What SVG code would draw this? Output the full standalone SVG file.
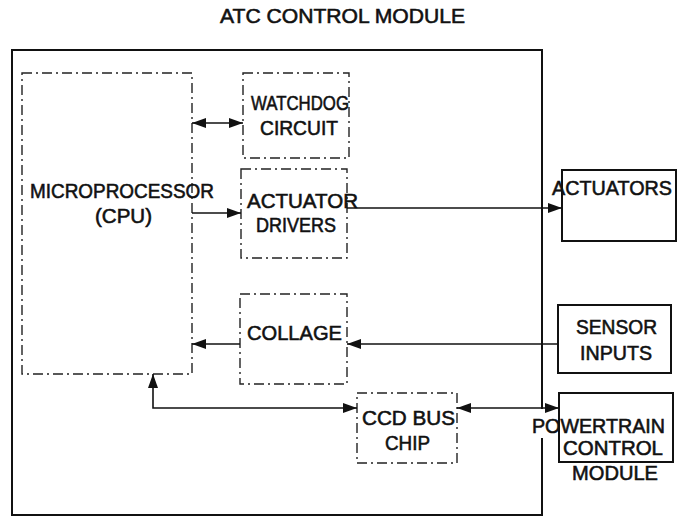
<svg xmlns="http://www.w3.org/2000/svg" width="683" height="518" viewBox="0 0 683 518">
<defs>
<style>
.t{font-family:"Liberation Sans","DejaVu Sans",sans-serif;font-size:19.5px;fill:#111;stroke:#111;stroke-width:0.55;text-anchor:start}
.dd{fill:none;stroke:#222;stroke-width:1.4;stroke-dasharray:10 4 2 4}
.solid{fill:none;stroke:#111;stroke-width:2}
.c{fill:none;stroke:#111;stroke-width:1.6}
</style>
<marker id="ah" viewBox="0 0 14 10" refX="14" refY="5" markerWidth="14" markerHeight="10" markerUnits="userSpaceOnUse" orient="auto-start-reverse">
<path d="M0,0 L14,5 L0,10 Z" fill="#111"/>
</marker>
</defs>
<rect width="683" height="518" fill="#fff"/>
<text class="t" x="220" y="23" textLength="245" lengthAdjust="spacingAndGlyphs">ATC CONTROL MODULE</text>
<g id="atc-module"><path class="solid" d="M542,409 L542,50 L12,50 L12,515 L542,515 L542,438"/></g>
<g id="cpu"><rect class="dd" x="22" y="73" width="170" height="301"/>
<text class="t" x="30" y="198" textLength="184" lengthAdjust="spacingAndGlyphs">MICROPROCESSOR</text>
<text class="t" x="95" y="223" textLength="57" lengthAdjust="spacingAndGlyphs">(CPU)</text></g>
<g id="watchdog"><rect class="dd" x="243" y="73" width="106" height="85"/>
<text class="t" x="251" y="110" textLength="98" lengthAdjust="spacingAndGlyphs">WATCHDOG</text>
<text class="t" x="260" y="135" textLength="78" lengthAdjust="spacingAndGlyphs">CIRCUIT</text></g>
<g id="actuator-drivers"><rect class="dd" x="241" y="169" width="106" height="89"/>
<text class="t" x="247" y="208" textLength="111" lengthAdjust="spacingAndGlyphs">ACTUATOR</text>
<text class="t" x="256" y="232" textLength="80" lengthAdjust="spacingAndGlyphs">DRIVERS</text></g>
<g id="collage"><rect class="dd" x="240" y="294" width="107" height="90"/>
<text class="t" x="247" y="340" textLength="95" lengthAdjust="spacingAndGlyphs">COLLAGE</text></g>
<g id="ccd"><rect class="dd" x="357" y="393" width="100" height="70"/>
<text class="t" x="362" y="425" textLength="93" lengthAdjust="spacingAndGlyphs">CCD BUS</text>
<text class="t" x="385" y="450" textLength="45" lengthAdjust="spacingAndGlyphs">CHIP</text></g>
<g id="actuators"><rect class="solid" x="562" y="170" width="114" height="71"/>
<text class="t" x="552" y="195" textLength="120" lengthAdjust="spacingAndGlyphs">ACTUATORS</text></g>
<g id="sensor-inputs"><rect class="solid" x="558" y="305" width="113" height="68"/>
<text class="t" x="576" y="334" textLength="81" lengthAdjust="spacingAndGlyphs">SENSOR</text>
<text class="t" x="580" y="360" textLength="72" lengthAdjust="spacingAndGlyphs">INPUTS</text></g>
<g id="pcm"><rect class="solid" x="559" y="393" width="114" height="69"/>
<text class="t" x="532" y="433" textLength="133" lengthAdjust="spacingAndGlyphs">POWERTRAIN</text>
<text class="t" x="563" y="455" textLength="100" lengthAdjust="spacingAndGlyphs">CONTROL</text>
<text class="t" x="572" y="480" textLength="86" lengthAdjust="spacingAndGlyphs">MODULE</text></g>
<g id="connectors">
<line class="c" x1="192" y1="123" x2="243" y2="123" marker-start="url(#ah)" marker-end="url(#ah)"/>
<line class="c" x1="192" y1="213" x2="241" y2="213" marker-end="url(#ah)"/>
<line class="c" x1="347" y1="208" x2="562" y2="208" marker-end="url(#ah)"/>
<line class="c" x1="240" y1="344" x2="192" y2="344" marker-end="url(#ah)"/>
<line class="c" x1="558" y1="344" x2="347" y2="344" marker-end="url(#ah)"/>
<polyline class="c" points="153,374 153,408 357,408" marker-start="url(#ah)" marker-end="url(#ah)"/>
<line class="c" x1="457" y1="408" x2="559" y2="408" marker-start="url(#ah)" marker-end="url(#ah)"/>
</g>
</svg>
